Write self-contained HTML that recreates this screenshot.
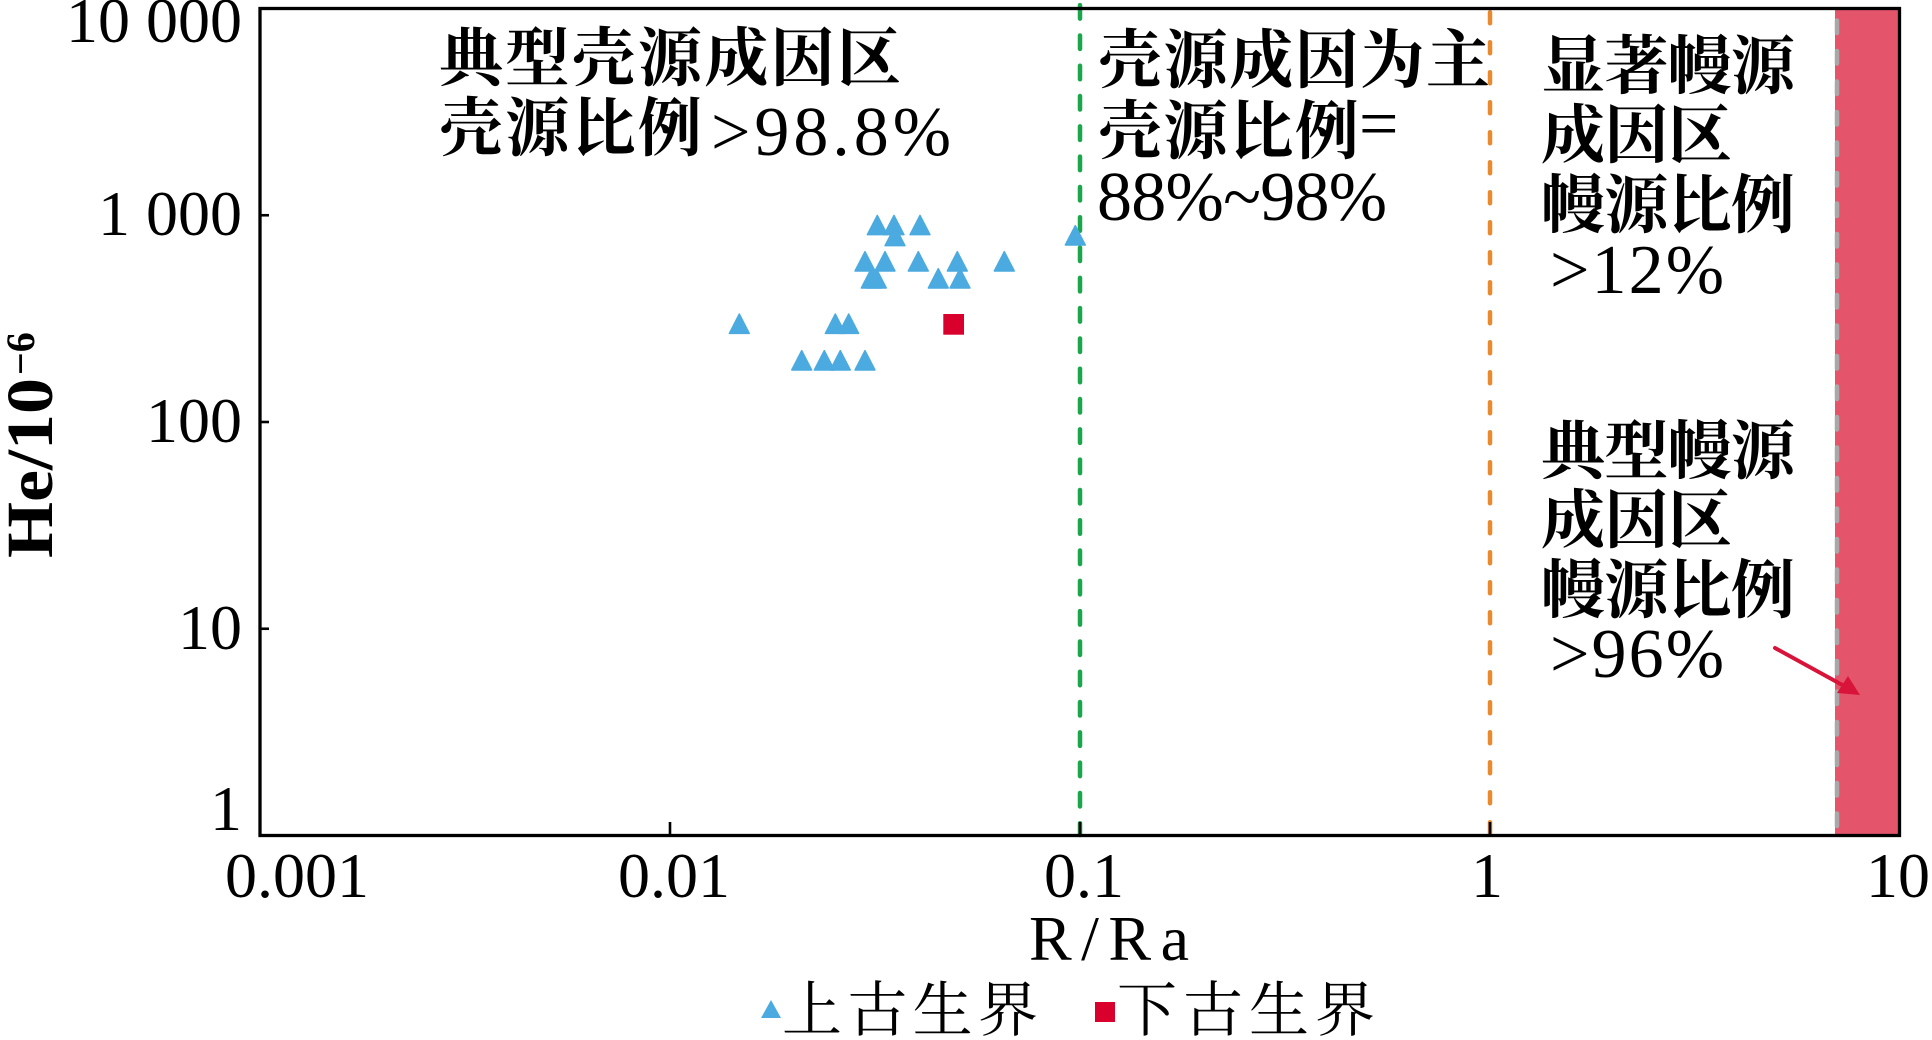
<!DOCTYPE html>
<html>
<head>
<meta charset="utf-8">
<style>
  html, body { margin: 0; padding: 0; background: #ffffff; }
  svg { display: block; }
  .cjk { font-family: "Noto Serif CJK SC", "Noto Sans CJK SC", serif; font-weight: 700; font-size: 64px; fill: #000; }
  .cjkr { font-family: "Noto Serif CJK SC", "Noto Sans CJK SC", serif; font-weight: 400; font-size: 60px; fill: #000; }
  .lat { font-family: "Liberation Serif", serif; font-size: 64px; fill: #000; }
  .latb { font-family: "Liberation Serif", serif; font-size: 70px; fill: #000; }
</style>
</head>
<body>
<svg width="1932" height="1040" viewBox="0 0 1932 1040" xmlns="http://www.w3.org/2000/svg">
  <rect x="0" y="0" width="1932" height="1040" fill="#ffffff"/>

  <!-- mantle band -->
  <rect x="1835" y="8.5" width="64.5" height="827" fill="#E4556B"/>
  <line x1="1837" y1="20.5" x2="1837" y2="835" stroke="#A8A8A8" stroke-width="4.5" stroke-dasharray="12.5 18" stroke-linecap="round"/>

  <!-- dashed boundaries -->
  <line x1="1080" y1="5.15" x2="1080" y2="835" stroke="#1AA64A" stroke-width="4.5" stroke-dasharray="13.5 16.8" stroke-linecap="round"/>
  <line x1="1490" y1="12.25" x2="1490" y2="835" stroke="#E98A2E" stroke-width="4.5" stroke-dasharray="11 19" stroke-linecap="round"/>

  <!-- frame -->
  <rect x="260" y="8.5" width="1639.5" height="827" fill="none" stroke="#000" stroke-width="3.3"/>
  <!-- ticks -->
  <g stroke="#000" stroke-width="2.6">
    <line x1="670" y1="822" x2="670" y2="835"/>
    <line x1="1080" y1="822" x2="1080" y2="835"/>
    <line x1="1490" y1="822" x2="1490" y2="835"/>
    <line x1="260" y1="215.25" x2="269" y2="215.25"/>
    <line x1="260" y1="422" x2="269" y2="422"/>
    <line x1="260" y1="628.75" x2="269" y2="628.75"/>
  </g>

  <!-- y tick labels -->
  <g class="lat" text-anchor="end">
    <text x="242" y="42">10 000</text>
    <text x="242" y="235">1 000</text>
    <text x="242" y="442">100</text>
    <text x="242" y="649">10</text>
    <text x="242" y="830">1</text>
  </g>
  <!-- x tick labels -->
  <g class="lat">
    <text x="225" y="897">0.001</text>
    <text x="618" y="897">0.01</text>
    <text x="1044" y="897">0.1</text>
    <text x="1471" y="897">1</text>
    <text x="1866" y="897">10</text>
  </g>

  <!-- axis titles -->
  <text x="1029" y="960" font-family="Liberation Serif, serif" font-size="64" textLength="160" lengthAdjust="spacing">R/Ra</text>
  <text transform="translate(52,557) rotate(-90)" x="-1" y="0" font-family="Liberation Serif, serif" font-weight="700" font-size="66" textLength="180" lengthAdjust="spacingAndGlyphs">He/10</text>
  <text transform="translate(52,557) rotate(-90)" x="182" y="-18" font-family="Liberation Serif, serif" font-weight="700" font-size="40">−6</text>

  <!-- data: upper Paleozoic triangles -->
  <g fill="#4BAADF" stroke="#4BAADF" stroke-width="1.4" stroke-linejoin="round">
    <polygon points="867.3,234.7 887.3,234.7 877.3,215.3"/>
    <polygon points="884,234.7 904,234.7 894,215.3"/>
    <polygon points="910,234.7 930,234.7 920,215.3"/>
    <polygon points="885,245.7 905,245.7 895,226.3"/>
    <polygon points="1065.3,245 1085.3,245 1075.3,225.6"/>
    <polygon points="855,271 875,271 865,251.6"/>
    <polygon points="875,271 895,271 885,251.6"/>
    <polygon points="908.3,271 928.3,271 918.3,251.6"/>
    <polygon points="947.3,271 967.3,271 957.3,251.6"/>
    <polygon points="994.3,271 1014.3,271 1004.3,251.6"/>
    <polygon points="861.3,288 881.3,288 871.3,268.6"/>
    <polygon points="866.3,288 886.3,288 876.3,268.6"/>
    <polygon points="928.3,288 948.3,288 938.3,268.6"/>
    <polygon points="950,288 970,288 960,268.6"/>
    <polygon points="729.3,333.4 749.3,333.4 739.3,314"/>
    <polygon points="825.3,333.4 845.3,333.4 835.3,314"/>
    <polygon points="838.7,333.4 858.7,333.4 848.7,314"/>
    <polygon points="791.7,370 811.7,370 801.7,350.6"/>
    <polygon points="814.3,370 834.3,370 824.3,350.6"/>
    <polygon points="830.3,370 850.3,370 840.3,350.6"/>
    <polygon points="855,370 875,370 865,350.6"/>
  </g>
  <!-- lower Paleozoic square -->
  <rect x="943.3" y="314" width="20.7" height="20.7" fill="#D9002E"/>

  <!-- annotation texts -->
  <text class="cjk" x="439" y="80.5" textLength="462" lengthAdjust="spacing">典型壳源成因区</text>
  <text class="cjk" x="439" y="150.5" textLength="263" lengthAdjust="spacing">壳源比例</text>
  <text class="latb" x="711" y="155" textLength="240" lengthAdjust="spacing">&gt;98.8%</text>

  <text class="cjk" x="1098" y="82.5" textLength="392" lengthAdjust="spacing">壳源成因为主</text>
  <text class="cjk" x="1098" y="153.5" textLength="261" lengthAdjust="spacing">壳源比例</text>
  <text class="latb" x="1359" y="147">=</text>
  <text class="latb" x="1097" y="220" textLength="290" lengthAdjust="spacing">88%~98%</text>

  <text class="cjk" x="1541" y="88.5" textLength="254" lengthAdjust="spacing">显著幔源</text>
  <text class="cjk" x="1541" y="157.5" textLength="191" lengthAdjust="spacing">成因区</text>
  <text class="cjk" x="1541" y="227.5" textLength="254" lengthAdjust="spacing">幔源比例</text>
  <text class="latb" x="1550" y="293" textLength="174" lengthAdjust="spacing">&gt;12%</text>

  <text class="cjk" x="1541" y="473.5" textLength="254" lengthAdjust="spacing">典型幔源</text>
  <text class="cjk" x="1541" y="542.5" textLength="191" lengthAdjust="spacing">成因区</text>
  <text class="cjk" x="1541" y="612.5" textLength="254" lengthAdjust="spacing">幔源比例</text>
  <text class="latb" x="1550" y="677" textLength="174" lengthAdjust="spacing">&gt;96%</text>

  <!-- arrow -->
  <line x1="1775" y1="648" x2="1846" y2="687" stroke="#D9143A" stroke-width="4" stroke-linecap="round"/>
  <polygon points="1860,695 1837,693 1848,676" fill="#D9143A"/>

  <!-- legend -->
  <polygon points="761,1018 781,1018 771,1000" fill="#4BAADF"/>
  <text class="cjkr" x="782" y="1031" textLength="256" lengthAdjust="spacing">上古生界</text>
  <rect x="1095" y="1002" width="20" height="20" fill="#D9002E"/>
  <text class="cjkr" x="1117" y="1031" textLength="258" lengthAdjust="spacing">下古生界</text>
</svg>
</body>
</html>
